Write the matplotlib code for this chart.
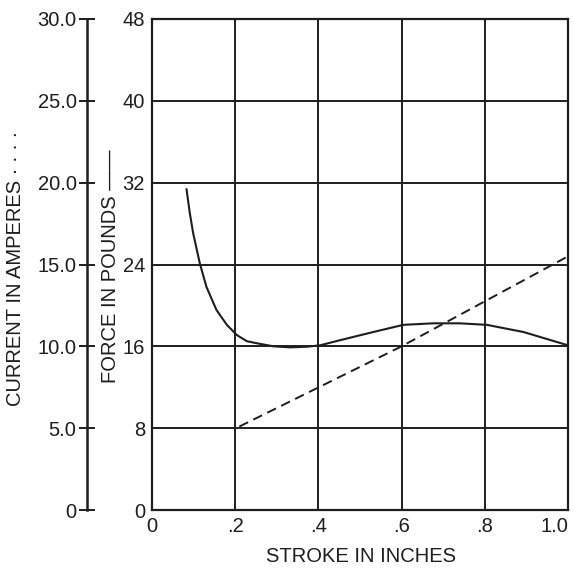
import matplotlib
matplotlib.use("Agg")
import matplotlib.pyplot as plt

plt.rcParams['font.family'] = ['Liberation Sans', 'DejaVu Sans']

# Data
stroke_ticks = [0, 0.2, 0.4, 0.6, 0.8, 1.0]
stroke_labels = ['0', '.2', '.4', '.6', '.8', '1.0']
force_ticks = [0, 8, 16, 24, 32, 40, 48]
force_labels = ['0', '8', '16', '24', '32', '40', '48']
current_ticks = [0, 5, 10, 15, 20, 25, 30]
current_labels = ['0', '5.0', '10.0', '15.0', '20.0', '25.0', '30.0']

force_x = [0.083, 0.091, 0.099, 0.115, 0.131, 0.155, 0.18, 0.204, 0.228, 0.252,
           0.292, 0.332, 0.372, 0.404, 0.452, 0.532, 0.604, 0.676, 0.740, 0.805,
           0.893, 1.0]
force_y = [31.35, 29.0, 27.05, 24.1, 21.8, 19.55, 18.1, 17.1, 16.5, 16.3,
           16.0, 15.9, 15.96, 16.1, 16.6, 17.4, 18.1, 18.25, 18.25, 18.1,
           17.4, 16.1]

current_x = [0.21, 0.6, 1.0]
current_y = [5.1, 10.0, 15.5]

ink = '#1e1e1e'

fig = plt.figure(figsize=(5.74, 5.72), dpi=100)
ax = fig.add_axes([152/574, 62/572, 416/574, 491/572])

ax.set_xlim(0, 1.0)
ax.set_ylim(0, 48)
ax.set_xticks(stroke_ticks)
ax.set_xticklabels(stroke_labels)
ax.set_yticks(force_ticks)
ax.set_yticklabels(force_labels)
ax.tick_params(axis='both', length=0, labelsize=14.5, colors=ink, pad=5)
ax.get_xticklabels()[-1].set_horizontalalignment('right')
ax.grid(True, color=ink, lw=1.4)
ax.set_axisbelow(True)
for s in ax.spines.values():
    s.set_color(ink)
    s.set_linewidth(1.6)

ax.plot(force_x, force_y, color=ink, lw=1.5, zorder=3)

ax2 = ax.twinx()
ax2.set_ylim(0, 30)
ax2.set_yticks(current_ticks)
ax2.set_yticklabels(current_labels)
ax2.yaxis.set_ticks_position('left')
ax2.spines['left'].set_position(('axes', -65/416))
ax2.spines['left'].set_visible(True)
ax2.spines['left'].set_color(ink)
ax2.spines['left'].set_linewidth(1.8)
for k in ['right', 'top', 'bottom']:
    ax2.spines[k].set_visible(False)
ax2.tick_params(axis='y', direction='inout', length=11, width=1.4,
                labelsize=14.5, colors=ink, pad=2)
ax2.plot(current_x, current_y, color=ink, lw=1.4, linestyle=(0, (5, 3)), zorder=3)

fig.text(361/574, 1 - 557/572, 'STROKE IN INCHES', ha='center', va='center',
         fontsize=14.5, color=ink)
fig.text(16/574, 1 - 268/572, 'CURRENT IN AMPERES · · · ·', ha='center', va='center',
         rotation=90, fontsize=14.5, color=ink)
fig.text(110/574, 1 - 266/572, 'FORCE IN POUNDS ——', ha='center', va='center',
         rotation=90, fontsize=14.5, color=ink)

fig.savefig('out.png', dpi=100, facecolor='white')
